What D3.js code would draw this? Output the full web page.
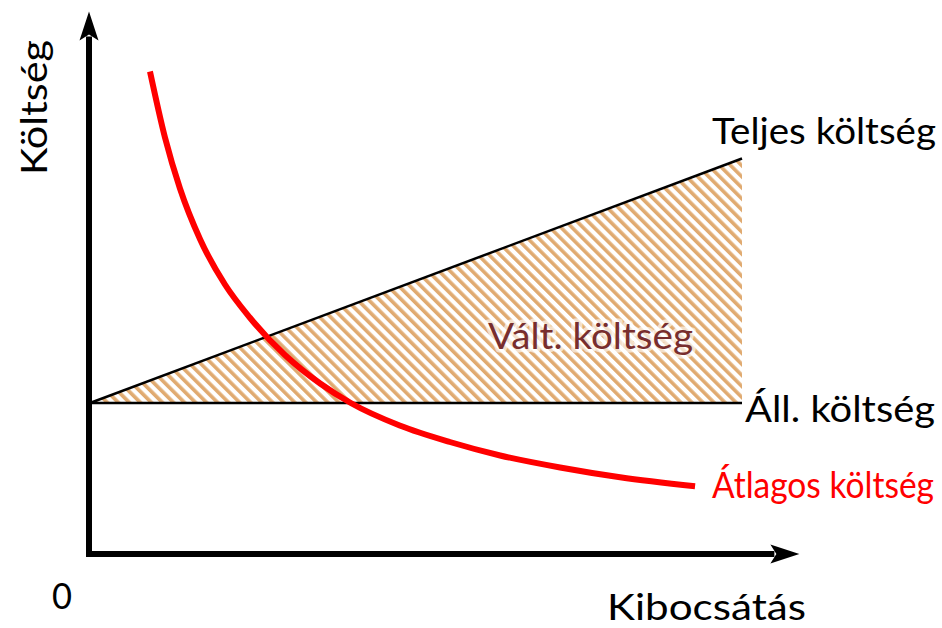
<!DOCTYPE html>
<html><head><meta charset="utf-8">
<script src="https://cdn.jsdelivr.net/npm/d3@7"></script>
<style>html,body{margin:0;padding:0;background:#fff;}svg{display:block;font-family:Lato,"Open Sans",sans-serif;}</style>
</head><body>
<svg id="chart" width="942" height="628"></svg>
<script>
// Output (quantity) and cost values
const quantityRange = [0, 10];
const fixedCost = [100, 100];          // at q = 0 and q = 10
const totalCost = [100, 263];          // at q = 0 and q = 10
const avgCostQ = [0.92, 1.15, 1.38, 1.69, 2.07, 2.45, 2.99, 3.53, 4.0, 4.75, 5.52, 6.29, 7.21, 8.13, 9.28];
const avgCostV = [321, 277, 243, 209, 179, 157, 132, 113, 100, 85, 74, 65, 57, 50.5, 44.5];
const axisMax = {q: 10.88, cost: 361};
const labels = {
  xTitle: "Kibocsátás", yTitle: "Költség", origin: "0",
  total: "Teljes költség", fixed: "Áll. költség", avg: "Átlagos költség", variable: "Vált. költség"
};

const svg = d3.select("#chart");
const x = d3.scaleLinear().domain([0, 10]).range([90, 742]);
const y = d3.scaleLinear().domain([0, 100]).range([553, 403]);

// hatch pattern
const defs = svg.append("defs");
const pat = defs.append("pattern").attr("id", "hatch")
  .attr("patternUnits", "userSpaceOnUse").attr("width", 7.8).attr("height", 10)
  .attr("patternTransform", "rotate(-45)");
pat.append("rect").attr("x", 0).attr("y", 0).attr("width", 3.6).attr("height", 10).attr("fill", "#e0aa70");

// variable cost area between fixed and total
const areaData = quantityRange.map((q, i) => ({q, f: fixedCost[i], t: totalCost[i]}));
svg.append("path").datum(areaData)
  .attr("d", d3.area().x(d => x(d.q)).y0(d => y(d.f)).y1(d => y(d.t)))
  .attr("fill", "url(#hatch)");

// fixed cost line
svg.append("path").datum(areaData)
  .attr("d", d3.line().x(d => x(d.q)).y(d => y(d.f)))
  .attr("stroke", "#000").attr("stroke-width", 2.5).attr("fill", "none");
// total cost line
svg.append("path").datum(areaData)
  .attr("d", d3.line().x(d => x(d.q)).y(d => y(d.t)))
  .attr("stroke", "#000").attr("stroke-width", 2.5).attr("fill", "none");

// average cost curve
const avgData = avgCostQ.map((q, i) => ({q, v: avgCostV[i]}));
svg.append("path").datum(avgData)
  .attr("d", d3.line().curve(d3.curveMonotoneX).x(d => x(d.q)).y(d => y(d.v)))
  .attr("stroke", "#ff0000").attr("stroke-width", 6).attr("fill", "none");

// axes with arrowheads
const ox = x(0) - 1, oy = y(0) + 1;
const tipX = x(axisMax.q), tipY = y(axisMax.cost);
const headLen = 29, notch = 23, halfW = 9.5;
svg.append("line").attr("x1", ox).attr("y1", oy + 3).attr("x2", ox).attr("y2", tipY + notch + 2)
  .attr("stroke", "#000").attr("stroke-width", 6);
svg.append("line").attr("x1", ox - 3).attr("y1", oy).attr("x2", tipX - notch - 2).attr("y2", oy)
  .attr("stroke", "#000").attr("stroke-width", 6);
svg.append("path")
  .attr("d", `M${ox},${tipY} L${ox + halfW},${tipY + headLen} L${ox},${tipY + notch} L${ox - halfW},${tipY + headLen} Z`)
  .attr("fill", "#000");
svg.append("path")
  .attr("d", `M${tipX},${oy} L${tipX - headLen},${oy - halfW} L${tipX - notch},${oy} L${tipX - headLen},${oy + halfW} Z`)
  .attr("fill", "#000");

// texts
function txt(s, px, py, len, color) {
  return svg.append("text").attr("x", px).attr("y", py).text(s)
    .attr("font-size", 36).attr("fill", color || "#000")
    .attr("textLength", len).attr("lengthAdjust", "spacingAndGlyphs");
}
txt(labels.total, 712, 144, 224);
txt(labels.fixed, 745, 422, 190);
txt(labels.avg, 712, 498, 222, "#ff0000");
txt(labels.xTitle, 607, 620, 199);
txt(labels.origin, 52, 609, 20);
txt(labels.variable, 488, 349, 205, "#782e2e")
  .attr("stroke", "rgba(255,255,255,0.65)").attr("stroke-width", 7)
  .attr("stroke-linejoin", "round").attr("paint-order", "stroke");
svg.append("text").attr("transform", "translate(47,175) rotate(-90)")
  .text(labels.yTitle).attr("font-size", 36).attr("fill", "#000")
  .attr("textLength", 135).attr("lengthAdjust", "spacingAndGlyphs");
</script>
</body></html>
